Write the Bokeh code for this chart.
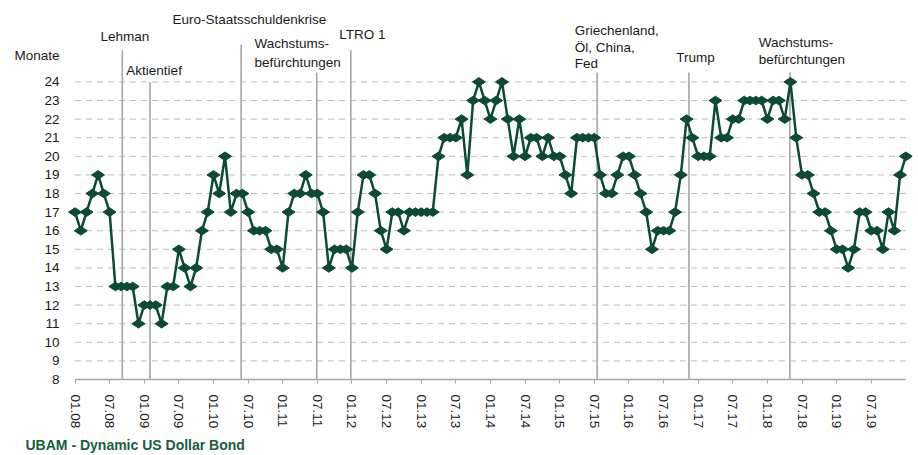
from bokeh.plotting import figure
from bokeh.models import FixedTicker, ColumnDataSource, Range1d, Title
from bokeh.embed import file_html
from bokeh.resources import INLINE
from bokeh.core.properties import value

# ---------------- data ----------------
tick_labels = ["01.08", "07.08", "01.09", "07.09", "01.10", "07.10", "01.11", "07.11",
               "01.12", "07.12", "01.13", "07.13", "01.14", "07.14", "01.15", "07.15",
               "01.16", "07.16", "01.17", "07.17", "01.18", "07.18", "01.19", "07.19"]

# monthly duration (Monate), Jan 2008 .. Jan 2020
duration = [17, 16, 17, 18, 19, 18, 17, 13, 13, 13, 13, 11,
            12, 12, 12, 11, 13, 13, 15, 14, 13, 14, 16, 17,
            19, 18, 20, 17, 18, 18, 17, 16, 16, 16, 15, 15,
            14, 17, 18, 18, 19, 18, 18, 17, 14, 15, 15, 15,
            14, 17, 19, 19, 18, 16, 15, 17, 17, 16, 17, 17,
            17, 17, 17, 20, 21, 21, 21, 22, 19, 23, 24, 23,
            22, 23, 24, 22, 20, 22, 20, 21, 21, 20, 21, 20,
            20, 19, 18, 21, 21, 21, 21, 19, 18, 18, 19, 20,
            20, 19, 18, 17, 15, 16, 16, 16, 17, 19, 22, 21,
            20, 20, 20, 23, 21, 21, 22, 22, 23, 23, 23, 23,
            22, 23, 23, 22, 24, 21, 19, 19, 18, 17, 17, 16,
            15, 15, 14, 15, 17, 17, 16, 16, 15, 17, 16, 19,
            20]

y_ticks = list(range(8, 25))
unit_label = "Monate"
unit_label_pos = 25.44
footer = "UBAM - Dynamic US Dollar Bond"

# events (position in months since 01.08) and their labels
event_month = [8.2, 13.0, 28.8, 41.9, 47.8, 90.5, 106.4, 123.9]
event_top = [25.7, 24.0, 26.0, 24.5, 25.7, 24.5, 24.5, 24.5]

label_text = ["Lehman", "Aktientief", "Euro-Staatsschuldenkrise",
              "Wachstums-", "befürchtungen", "LTRO 1",
              "Griechenland,", "Öl, China,", "Fed", "Trump",
              "Wachstums-", "befürchtungen"]
label_x = [4.4, 8.9, 16.9, 31.1, 31.1, 45.8, 86.6, 86.6, 86.6, 104.2, 118.5, 118.5]
label_y = [26.45, 24.62, 27.36, 26.08, 25.07, 26.56, 26.77, 25.87, 25.0, 25.33, 26.13, 25.23]

# ---------------- styling ----------------
GREEN = "#0b4a33"
GRID = "#bdbdbd"
EVENT = "#a6a6a6"
FONT = "Liberation Sans"

months = list(range(len(duration)))

p = figure(width=918, height=455, output_backend="svg", toolbar_location=None,
           title=None,
           x_range=Range1d(-1.30, 145.15), y_range=Range1d(8, 27.84),
           min_border_left=67, min_border_right=6, min_border_top=10,
           min_border_bottom=73)
p.outline_line_color = None
p.background_fill_color = "white"
p.xgrid.visible = False
p.ygrid.visible = False

# dashed horizontal grid lines across the data span
grid_vals = y_ticks[1:]
p.segment(x0=[months[0]] * len(grid_vals), x1=[months[-1]] * len(grid_vals),
          y0=grid_vals, y1=grid_vals, line_color=GRID, line_width=1,
          line_dash="6 5")

# event lines
p.segment(x0=event_month, x1=event_month, y0=[y_ticks[0]] * len(event_month),
          y1=event_top, line_color=EVENT, line_width=1.6)

# event labels
lab_src = ColumnDataSource(dict(x=label_x, y=label_y, t=label_text))
p.text(x="x", y="y", text="t", source=lab_src, text_font=value(FONT),
       text_font_size="13.5px", text_color="#1a1a1a", text_baseline="middle",
       text_align="left")

# data
src = ColumnDataSource(dict(x=months, y=duration))
p.line("x", "y", source=src, line_color=GREEN, line_width=2.5)
p.scatter("x", "y", source=src, marker="diamond", angle=1.5708, size=13,
          fill_color=GREEN, line_color=GREEN)

# x axis
xa = p.xaxis[0]
xa.ticker = FixedTicker(ticks=list(range(0, 6 * len(tick_labels), 6)))
xa.major_label_overrides = {6 * i: lab for i, lab in enumerate(tick_labels)}
xa.bounds = (months[0], months[-1])
xa.major_label_orientation = "vertical"
xa.axis_line_color = EVENT
xa.axis_line_width = 1.5
xa.major_tick_line_color = EVENT
xa.major_tick_out = 4
xa.major_tick_in = 0
xa.minor_tick_line_color = None
xa.major_label_standoff = 11
xa.major_label_text_font = FONT
xa.major_label_text_font_size = "13.5px"
xa.major_label_text_color = "#1a1a1a"

# y axis (unit label "Monate" shown as an extra tick label above 24)
ya = p.yaxis[0]
ya.ticker = FixedTicker(ticks=y_ticks + [unit_label_pos])
ya.major_label_overrides = {unit_label_pos: unit_label}
ya.axis_line_color = None
ya.major_tick_line_color = None
ya.minor_tick_line_color = None
ya.major_tick_out = 0
ya.major_tick_in = 0
ya.major_label_standoff = 8
ya.major_label_text_font = FONT
ya.major_label_text_font_size = "13.5px"
ya.major_label_text_color = "#1a1a1a"

# footer title
p.add_layout(Title(text=footer, align="left", offset=-42, standoff=6,
                   text_font=FONT, text_font_size="14px",
                   text_font_style="bold", text_color="#17603d"), "below")

open("out.html", "w").write(file_html(p, INLINE))
